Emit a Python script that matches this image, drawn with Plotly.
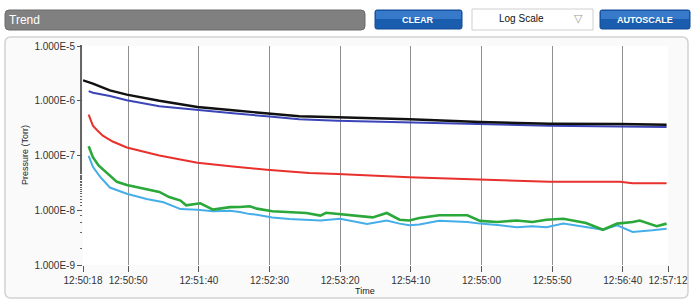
import pandas as pd
import plotly.graph_objects as go

# ---------------- data ----------------
start_clock = "12:50:18"          # elapsed seconds below are measured from this time
tick_labels = ["12:50:18", "12:50:50", "12:51:40", "12:52:30", "12:53:20",
               "12:54:10", "12:55:00", "12:55:50", "12:56:40", "12:57:12"]
y_tick_vals = [1e-9, 1e-8, 1e-7, 1e-6, 1e-5]
y_tick_text = ["1.000E-9", "1.000E-8", "1.000E-7", "1.000E-6", "1.000E-5"]

black_sec = [0, 7, 19, 31, 54, 81, 106, 130, 153, 180, 231, 281, 330, 380, 413]
black_torr = [2.36e-6, 2.05e-6, 1.55e-6, 1.29e-6, 1.0e-6, 7.7e-7, 6.7e-7, 5.9e-7,
              5.2e-7, 5.0e-7, 4.6e-7, 4.1e-7, 3.8e-7, 3.75e-7, 3.65e-7]

blue_sec = [4, 7, 19, 31, 54, 81, 106, 130, 153, 180, 231, 281, 330, 380, 413]
blue_torr = [1.5e-6, 1.4e-6, 1.22e-6, 1.02e-6, 7.9e-7, 6.7e-7, 5.9e-7, 5.2e-7,
             4.6e-7, 4.3e-7, 4.0e-7, 3.7e-7, 3.5e-7, 3.4e-7, 3.3e-7]

red_sec = [4, 7, 10, 14, 21, 31, 54, 81, 106, 130, 160, 180, 231, 281, 330, 380, 389, 413]
red_torr = [5.6e-7, 3.5e-7, 2.9e-7, 2.3e-7, 1.8e-7, 1.4e-7, 1.0e-7, 7.4e-8, 6.3e-8,
            5.5e-8, 4.8e-8, 4.6e-8, 4.0e-8, 3.6e-8, 3.3e-8, 3.3e-8, 3.1e-8, 3.1e-8]

green_sec = [4, 7, 11, 17, 24, 31, 45, 54, 61, 69, 73, 83, 92, 104, 111, 118, 123, 134,
             158, 168, 172, 182, 194, 205, 215, 224, 231, 238, 252, 272, 281, 293, 307,
             318, 328, 340, 356, 368, 378, 389, 394, 406, 413]
green_torr = [1.48e-7, 9.3e-8, 6.6e-8, 4.7e-8, 3.3e-8, 2.9e-8, 2.4e-8, 2.16e-8, 1.74e-8,
              1.5e-8, 1.23e-8, 1.34e-8, 1.03e-8, 1.14e-8, 1.15e-8, 1.18e-8, 1.07e-8, 9.6e-9,
              8.9e-9, 8.0e-9, 9.0e-9, 8.5e-9, 8.0e-9, 7.4e-9, 8.9e-9, 6.7e-9, 6.5e-9, 7.2e-9,
              8.1e-9, 8.1e-9, 6.4e-9, 6.1e-9, 6.5e-9, 6.1e-9, 6.7e-9, 7.0e-9, 5.85e-9, 4.4e-9,
              5.7e-9, 6.1e-9, 6.5e-9, 5.1e-9, 5.7e-9]

lblue_sec = [4, 7, 12, 19, 31, 45, 57, 69, 81, 92, 104, 111, 118, 123, 134, 146, 168, 182,
             201, 215, 224, 231, 238, 252, 272, 281, 295, 307, 318, 328, 340, 356, 368, 378,
             389, 403, 413]
lblue_torr = [9.8e-8, 6.2e-8, 4.1e-8, 2.6e-8, 2.0e-8, 1.6e-8, 1.4e-8, 1.05e-8, 1.02e-8,
              9.6e-9, 9.8e-9, 9.3e-9, 8.5e-9, 8.3e-9, 7.4e-9, 6.9e-9, 6.5e-9, 7.0e-9,
              5.6e-9, 6.5e-9, 5.7e-9, 5.3e-9, 5.5e-9, 6.4e-9, 6.1e-9, 5.7e-9, 5.3e-9,
              4.9e-9, 5.1e-9, 4.9e-9, 5.7e-9, 4.9e-9, 4.4e-9, 5.3e-9, 4.0e-9, 4.3e-9, 4.6e-9]

# ---------------- helpers ----------------
DAY = "2000-01-01 "
t0 = pd.Timestamp(DAY + start_clock)


def clock(secs):
    return [t0 + pd.Timedelta(seconds=s) for s in secs]


tick_times = [pd.Timestamp(DAY + s) for s in tick_labels]

W, H = 691, 301
L, R, T, B = 83, 23, 46, 36
PW, PH = W - L - R, H - T - B


def px(x):
    return (x - L) / PW


def py(y):
    return (H - B - y) / PH


def rrect(x0, y0, x1, y1, r):
    pts = [
        f"M {px(x0 + r)} {py(y0)}", f"L {px(x1 - r)} {py(y0)}",
        f"Q {px(x1)} {py(y0)} {px(x1)} {py(y0 + r)}", f"L {px(x1)} {py(y1 - r)}",
        f"Q {px(x1)} {py(y1)} {px(x1 - r)} {py(y1)}", f"L {px(x0 + r)} {py(y1)}",
        f"Q {px(x0)} {py(y1)} {px(x0)} {py(y1 - r)}", f"L {px(x0)} {py(y0 + r)}",
        f"Q {px(x0)} {py(y0)} {px(x0 + r)} {py(y0)}", "Z"]
    return " ".join(pts)


fig = go.Figure()

series = [
    (lblue_sec, lblue_torr, "#45aee8", 2),
    (green_sec, green_torr, "#2aa83a", 2.6),
    (red_sec, red_torr, "#e8302c", 2),
    (blue_sec, blue_torr, "#3b45b8", 2),
    (black_sec, black_torr, "#111111", 2.4),
]
for secs, vals, col, w in series:
    fig.add_trace(go.Scatter(x=clock(secs), y=vals, mode="lines",
                             line=dict(color=col, width=w), showlegend=False,
                             hoverinfo="skip"))

font = "Liberation Sans, Arial, sans-serif"

fig.update_layout(
    width=W, height=H,
    margin=dict(l=L, r=R, t=T, b=B),
    paper_bgcolor="white",
    plot_bgcolor="white",
    font=dict(family=font, size=10, color="#333333"),
    xaxis=dict(
        type="date",
        range=[tick_times[0], tick_times[-1]],
        tickmode="array", tickvals=tick_times, ticktext=tick_labels,
        showgrid=False, zeroline=False, showline=False, automargin=False,
        ticks="outside", ticklen=6, tickcolor="#555555", tickwidth=1,
        tickfont=dict(size=10, color="#333333"),
        minor=dict(tickmode="array", tickvals=tick_times[1:-1], showgrid=True,
                   gridcolor="#8f8f8f", gridwidth=1, ticks=""),
        fixedrange=True,
    ),
    yaxis=dict(
        type="log", range=[-9, -5],
        tickmode="array", tickvals=y_tick_vals, ticktext=y_tick_text,
        showgrid=False, zeroline=False, showline=False, automargin=False,
        ticks="outside", ticklen=5, tickcolor="#555555", tickwidth=1,
        tickfont=dict(size=10, color="#333333"),
        minor=dict(ticks="outside", ticklen=2, tickcolor="#666666", showgrid=False),
        fixedrange=True,
    ),
    yaxis2=dict(
        type="log", range=[-9, -5], overlaying="y", side="left", automargin=False,
        tickmode="array", tickvals=y_tick_vals[1:-1],
        showticklabels=False, ticks="", showgrid=True, gridcolor="#d6d6d6",
        gridwidth=1, zeroline=False, showline=False, fixedrange=True,
    ),
)

shapes = []
# outer panel and plot area
shapes.append(dict(type="path", xref="paper", yref="paper", path=rrect(5, 37, 688, 298, 6),
                   fillcolor="#fafafa", line=dict(color="#d2d2d2", width=1.5), layer="below"))
shapes.append(dict(type="rect", xref="paper", yref="paper", x0=0, x1=1, y0=0, y1=1,
                   fillcolor="white", line=dict(width=0), layer="below"))
# header bar
shapes.append(dict(type="path", xref="paper", yref="paper", path=rrect(5, 10, 365, 30, 4),
                   fillcolor="#808080", line=dict(color="#6a6a6a", width=1), layer="above"))
# buttons
for x0, x1 in [(375, 462), (600, 690)]:
    shapes.append(dict(type="path", xref="paper", yref="paper", path=rrect(x0, 10, x1, 29, 2),
                       fillcolor="#1a5cae", line=dict(color="#124a92", width=1), layer="above"))
    shapes.append(dict(type="rect", xref="paper", yref="paper", x0=px(x0 + 1), x1=px(x1 - 1),
                       y0=py(19), y1=py(11), fillcolor="#3f82cf", line=dict(width=0),
                       layer="above", opacity=0.8))
# dropdown
shapes.append(dict(type="rect", xref="paper", yref="paper", x0=px(472), x1=px(593),
                   y0=py(30), y1=py(9), fillcolor="white",
                   line=dict(color="#cfcfcf", width=1), layer="above"))
fig.update_layout(shapes=shapes)

ann = []
ann.append(dict(text="Trend", x=px(7), y=py(20), xref="paper", yref="paper",
                xanchor="left", yanchor="middle", showarrow=False,
                font=dict(family=font, size=12, color="white")))
ann.append(dict(text="<b>CLEAR</b>", x=px(418), y=py(20), xref="paper", yref="paper",
                xanchor="center", yanchor="middle", showarrow=False,
                font=dict(family=font, size=9, color="white")))
ann.append(dict(text="<b>AUTOSCALE</b>", x=px(645), y=py(20), xref="paper", yref="paper",
                xanchor="center", yanchor="middle", showarrow=False,
                font=dict(family=font, size=9, color="white")))
ann.append(dict(text="Log Scale", x=px(521), y=py(19), xref="paper", yref="paper",
                xanchor="center", yanchor="middle", showarrow=False,
                font=dict(family=font, size=10, color="#111111")))
ann.append(dict(text="▽", x=px(578), y=py(19), xref="paper", yref="paper",
                xanchor="center", yanchor="middle", showarrow=False,
                font=dict(family="DejaVu Sans", size=11, color="#999999")))
ann.append(dict(text="Pressure (Torr)", x=px(25), y=py(155), xref="paper", yref="paper",
                xanchor="center", yanchor="middle", textangle=-90, showarrow=False,
                font=dict(family=font, size=9, color="#222222")))
ann.append(dict(text="Time", x=px(365), y=py(291), xref="paper", yref="paper",
                xanchor="center", yanchor="middle", showarrow=False,
                font=dict(family=font, size=9, color="#222222")))
fig.update_layout(annotations=ann)

fig.write_html("out.html", config={"displayModeBar": False},
               post_script="document.body.style.margin='0px';")
